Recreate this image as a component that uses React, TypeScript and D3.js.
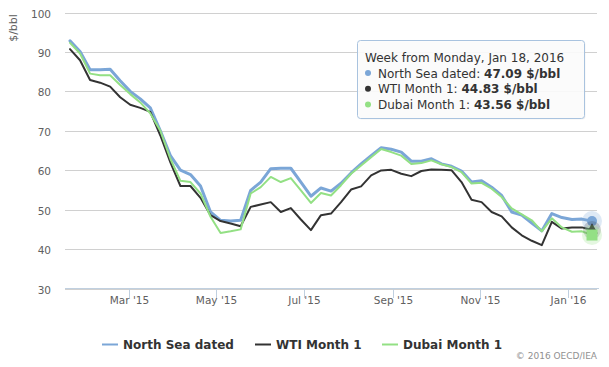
import React from 'react';
import * as d3 from 'd3';

// weekly prices, weeks starting Monday Jan 19 2015 .. Jan 18 2016
const firstWeek = new Date(2015, 0, 19);
const northSea = [92.8, 90.1, 85.5, 85.5, 85.6, 82.7, 80, 78.1, 75.8, 70, 63.7, 60, 58.9, 56, 49.4, 47.3, 47.1, 47.3, 54.9, 57,
  60.4, 60.5, 60.5, 57, 53.4, 55.5, 54.7, 56.7, 59.3, 61.6, 63.7, 65.7, 65.3, 64.6, 62.3, 62.3, 62.9, 61.6, 61, 59.8,
  57, 57.3, 55.7, 53.6, 49.4, 48.6, 46.6, 44.6, 49, 48, 47.5, 47.6, 47.09];
const wti = [90.7, 87.9, 82.9, 82.2, 81.2, 78.5, 76.6, 75.8, 74.8, 68.8, 62, 56, 56, 53, 48.6, 47.1, 46.5, 45.8, 50.7, 51.3,
  51.9, 49.4, 50.4, 47.5, 44.8, 48.6, 49, 51.9, 55.1, 55.9, 58.7, 59.95, 60.1, 59.1, 58.5, 59.8, 60.2, 60.1, 60, 57,
  52.5, 51.9, 49.4, 48.3, 45.5, 43.5, 42.1, 41, 46.9, 45.2, 45.5, 45.5, 44.83];
const dubai = [92.3, 89.6, 84.5, 84.1, 84.1, 81.6, 79.3, 77.2, 74.4, 70, 62.9, 57.3, 57, 54.1, 48.2, 44.1, 44.5, 45, 54.1, 55.7,
  58.3, 57, 58, 54.9, 51.7, 54.2, 53.6, 56.2, 59.1, 61.2, 63.3, 65.4, 64.6, 63.7, 61.6, 61.8, 62.5, 61.5, 60.8, 59.5,
  56.6, 56.8, 55.3, 53.2, 50.3, 48.8, 47.3, 44.5, 47.8, 45.5, 44.4, 44.5, 43.56];

const seriesNames = ['North Sea dated', 'WTI Month 1', 'Dubai Month 1'];
const seriesColors = ['#7ba6d7', '#333333', '#93e084'];
const yTicks = [30, 40, 50, 60, 70, 80, 90, 100];
const xTickDates = [new Date(2015, 2, 1), new Date(2015, 4, 1), new Date(2015, 6, 1), new Date(2015, 8, 1), new Date(2015, 10, 1), new Date(2016, 0, 1)];
const xTickLabels = ["Mar '15", "May '15", "Jul '15", "Sep '15", "Nov '15", "Jan '16"];

const font = '"DejaVu Sans", Verdana, sans-serif';

export default function App() {
  const W = 609, H = 367;
  const plotL = 65, plotR = 597;
  const weeks = northSea.map((_, i) => d3.timeDay.offset(firstWeek, 7 * i));
  const x = d3.scaleTime().domain([weeks[0], weeks[weeks.length - 1]]).range([70, 592]);
  const y = d3.scaleLinear().domain([30, 100]).range([288.5, 12.5]);
  const line = d3.line<number>().x((d, i) => x(weeks[i])).y(d => y(d));
  const all = [northSea, wti, dubai];
  const last = weeks.length - 1;
  const lx = x(weeks[last]);

  const legendX = [102, 255, 382];

  return (
    <svg width={W} height={H} style={{ position: 'absolute', left: 0, top: 0, fontFamily: font }}>
      <rect width={W} height={H} fill="#fff" />
      {/* grid */}
      {yTicks.map(t => {
        const yy = Math.round(y(t)) + 0.5;
        return (
          <g key={t}>
            <line x1={plotL} x2={plotR} y1={yy} y2={yy} stroke="#d0d0d0" strokeWidth={1} />
            <text x={51} y={yy + 4} textAnchor="end" fontSize={10.5} fill="#606060">{t}</text>
          </g>
        );
      })}
      <text transform="translate(17,28) rotate(-90)" textAnchor="middle" fontSize={11} fill="#606060">$/bbl</text>
      {/* x axis */}
      <line x1={plotL} x2={plotR + 2} y1={288.5} y2={288.5} stroke="#c0d0e0" />
      {xTickDates.map((d, i) => {
        const xx = Math.round(x(d)) + 0.5;
        return (
          <g key={i}>
            <line x1={xx} x2={xx} y1={288} y2={298} stroke="#c0d0e0" />
            <text x={xx} y={304} textAnchor="middle" fontSize={10.5} fill="#606060">{xTickLabels[i]}</text>
          </g>
        );
      })}
      {/* series */}
      {all.map((s, k) => (
        <path key={k} d={line(s) || ''} fill="none" stroke={seriesColors[k]} strokeWidth={k === 0 ? 3 : 2}
          strokeLinejoin="round" strokeLinecap="round" />
      ))}
      {/* hover markers */}
      <circle cx={lx} cy={y(northSea[last])} r={10} fill={seriesColors[0]} opacity={0.25} />
      <circle cx={lx} cy={y(northSea[last])} r={5} fill={seriesColors[0]} />
      <circle cx={lx} cy={y(wti[last])} r={9} fill={seriesColors[1]} opacity={0.2} />
      <path d={d3.symbol(d3.symbolTriangle, 60)() || ''} transform={`translate(${lx},${y(wti[last])})`} fill={seriesColors[1]} />
      <circle cx={lx} cy={y(dubai[last])} r={10} fill={seriesColors[2]} opacity={0.25} />
      <rect x={lx - 5.5} y={y(dubai[last]) - 5.5} width={11} height={11} fill={seriesColors[2]} />
      {/* tooltip */}
      <rect x={358.5} y={41.5} width={227} height={78} rx={3} fill="#000" opacity={0.05} />
      <rect x={357.5} y={40.5} width={227} height={78} rx={3} fill="rgba(252,252,252,0.9)" stroke="#a9c3df" />
      <text x={365} y={62} fontSize={12} fill="#333">Week from Monday, Jan 18, 2016</text>
      {all.map((s, k) => (
        <g key={k}>
          <circle cx={368} cy={73 + k * 15.7} r={3} fill={seriesColors[k]} />
          <text x={378} y={77.5 + k * 15.7} fontSize={12} fill="#333">
            {seriesNames[k]}: <tspan fontWeight="bold">{s[last].toFixed(2)} $/bbl</tspan>
          </text>
        </g>
      ))}
      {/* legend */}
      {seriesNames.map((n, k) => (
        <g key={n}>
          <line x1={legendX[k]} x2={legendX[k] + 16} y1={344.5} y2={344.5} stroke={seriesColors[k]} strokeWidth={2} />
          <text x={legendX[k] + 21} y={348.5} fontSize={12} fontWeight="bold" fill="#333">{n}</text>
        </g>
      ))}
      <text x={597} y={359} textAnchor="end" fontSize={9} fill="#909090">© 2016 OECD/IEA</text>
    </svg>
  );
}
